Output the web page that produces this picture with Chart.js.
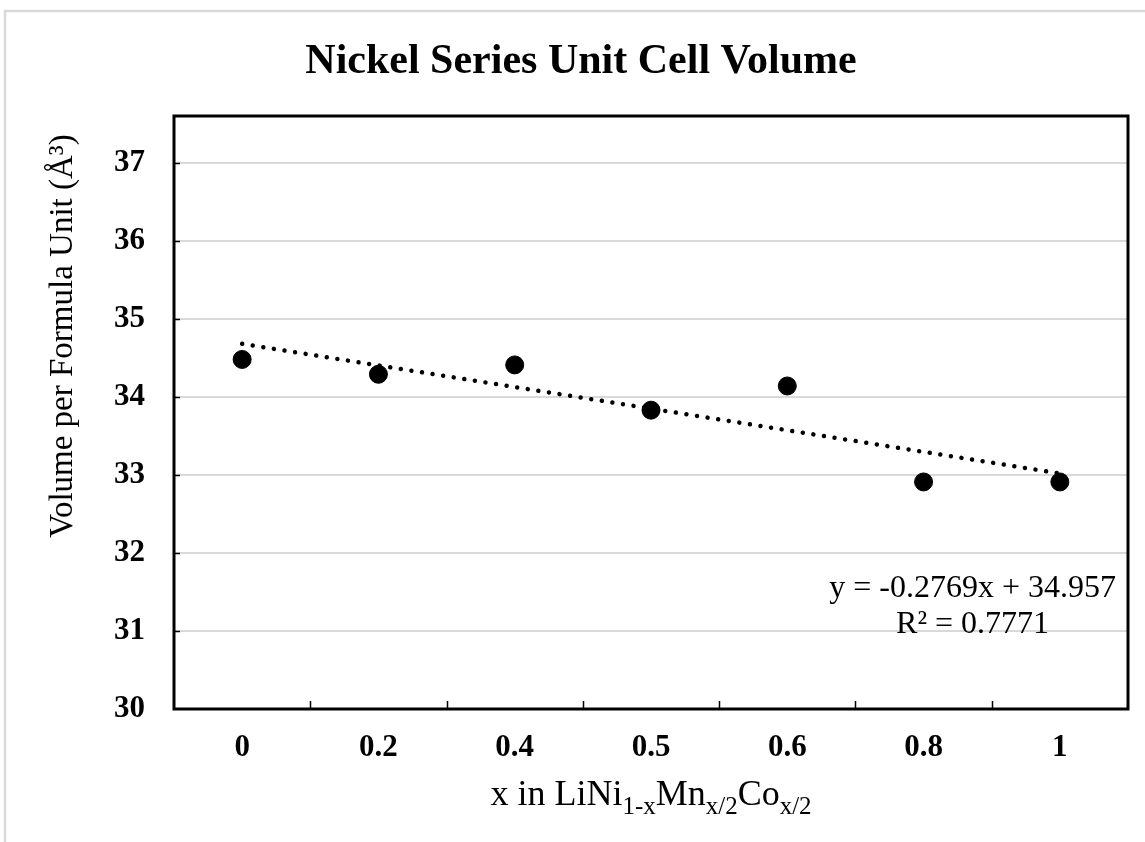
<!DOCTYPE html>
<html>
<head>
<meta charset="utf-8">
<script src="https://cdn.jsdelivr.net/npm/chart.js@4/dist/chart.umd.min.js"></script>
<style>
  html, body { margin: 0; padding: 0; background: #fff; }
  #wrap { width: 1145px; height: 842px; }
</style>
</head>
<body>
<div id="wrap"><canvas id="volChart"></canvas></div>
<script>
// values
var categories = ['0', '0.2', '0.4', '0.5', '0.6', '0.8', '1'];
var volumes = [34.48, 34.29, 34.41, 33.83, 34.14, 32.91, 32.91];

// trendline as printed on the chart (x = 1..n over the categories)
var trendSlope = -0.2769;
var trendIntercept = 34.957;
var trendLabel = ['y = -0.2769x + 34.957', 'R\u00B2 = 0.7771'];

var chartTitle = 'Nickel Series Unit Cell Volume';
var yTitle = 'Volume per Formula Unit (\u00C5\u00B3)';
// [text, isSubscript]
var xTitleParts = [['x in LiNi', false], ['1-x', true], ['Mn', false], ['x/2', true], ['Co', false], ['x/2', true]];

var serif = '"Liberation Serif", "Times New Roman", serif';

var trendData = categories.map(function (c, i) { return trendIntercept + trendSlope * (i + 1); });

var decor = {
  id: 'decor',
  beforeDraw: function (chart) {
    var ctx = chart.ctx;
    ctx.save();
    ctx.strokeStyle = '#d9d9d9';
    ctx.lineWidth = 2.5;
    ctx.strokeRect(5, 11, 1200, 900);
    ctx.restore();
  },
  afterDraw: function (chart) {
    var ctx = chart.ctx, a = chart.chartArea;
    var x = chart.scales.x, y = chart.scales.y;
    ctx.save();
    ctx.strokeStyle = '#000';

    // small ticks pointing into the plot
    ctx.lineWidth = 1.5;
    y.ticks.forEach(function (t) {
      if (t.value <= y.min || t.value >= y.max) return;
      if (Math.abs(t.value * 2 - Math.round(t.value * 2)) > 1e-6) return;
      var py = Math.round(y.getPixelForValue(t.value)) + 0.5;
      ctx.beginPath(); ctx.moveTo(a.left, py); ctx.lineTo(a.left + 6, py); ctx.stroke();
    });
    for (var i = 1; i < categories.length; i++) {
      var px = Math.round((x.getPixelForValue(i - 1) + x.getPixelForValue(i)) / 2) + 0.5;
      ctx.beginPath(); ctx.moveTo(px, a.bottom); ctx.lineTo(px, a.bottom - 8); ctx.stroke();
    }

    // plot frame
    ctx.lineWidth = 3;
    ctx.strokeRect(a.left, a.top, a.right - a.left, a.bottom - a.top);

    ctx.fillStyle = '#000';

    // chart title
    ctx.font = 'bold 42px ' + serif;
    ctx.textAlign = 'center';
    ctx.textBaseline = 'alphabetic';
    ctx.fillText(chartTitle, 581, 73);

    // y axis title
    ctx.save();
    ctx.translate(63, a.top + 220);
    ctx.rotate(-Math.PI / 2);
    ctx.font = '33px ' + serif;
    ctx.textAlign = 'center';
    ctx.textBaseline = 'middle';
    ctx.fillText(yTitle, 0, 0);
    ctx.restore();

    // x axis title with subscripts
    var mainFont = '36px ' + serif, subFont = '25px ' + serif;
    var total = 0;
    xTitleParts.forEach(function (p) {
      ctx.font = p[1] ? subFont : mainFont;
      total += ctx.measureText(p[0]).width;
    });
    var cx = (a.left + a.right) / 2 - total / 2;
    var base = a.bottom + 96;
    ctx.textAlign = 'left';
    xTitleParts.forEach(function (p) {
      ctx.font = p[1] ? subFont : mainFont;
      ctx.fillText(p[0], cx, p[1] ? base + 9 : base);
      cx += ctx.measureText(p[0]).width;
    });

    // trendline equation
    ctx.font = '32px ' + serif;
    ctx.textAlign = 'center';
    ctx.fillText(trendLabel[0], x.getPixelForValue(5) + 49, y.getPixelForValue(31.5) + 5);
    ctx.fillText(trendLabel[1], x.getPixelForValue(5) + 49, y.getPixelForValue(31.5) + 41);
    ctx.restore();
  }
};

new Chart(document.getElementById('volChart'), {
  type: 'line',
  data: {
    labels: categories,
    datasets: [{
      label: 'Unit cell volume',
      data: volumes,
      showLine: false,
      pointRadius: 9,
      pointHoverRadius: 9,
      pointBackgroundColor: '#000',
      pointBorderColor: '#000',
      order: 1
    }, {
      label: 'Linear trend',
      data: trendData,
      borderColor: '#000',
      borderWidth: 4.5,
      borderDash: [0.01, 10.7],
      borderCapStyle: 'round',
      pointRadius: 0,
      fill: false,
      order: 0
    }]
  },
  options: {
    responsive: true,
    maintainAspectRatio: false,
    animation: false,
    layout: { padding: { left: 0, right: 17, top: 116, bottom: 0 } },
    plugins: {
      legend: { display: false },
      tooltip: { enabled: false },
      title: { display: false }
    },
    scales: {
      x: {
        offset: true,
        grid: { display: false, drawTicks: false, offset: true },
        border: { display: false },
        ticks: { color: '#000', padding: 20, font: { family: serif, size: 31, weight: 'bold' } },
        afterFit: function (s) { s.height = 133; }
      },
      y: {
        min: 30,
        max: 37.6,
        grid: {
          drawTicks: false,
          lineWidth: 2,
          color: function (c) {
            var v = c.tick && c.tick.value;
            return (Number.isInteger(v) && v > 30) ? '#d9d9d9' : 'rgba(0,0,0,0)';
          }
        },
        border: { display: false },
        ticks: {
          stepSize: 0.5,
          color: '#000',
          padding: 29,
          font: { family: serif, size: 31, weight: 'bold' },
          callback: function (v) { return Number.isInteger(v) ? v : ''; }
        },
        afterFit: function (s) { s.width = 174; }
      }
    }
  },
  plugins: [decor]
});
</script>
</body>
</html>
